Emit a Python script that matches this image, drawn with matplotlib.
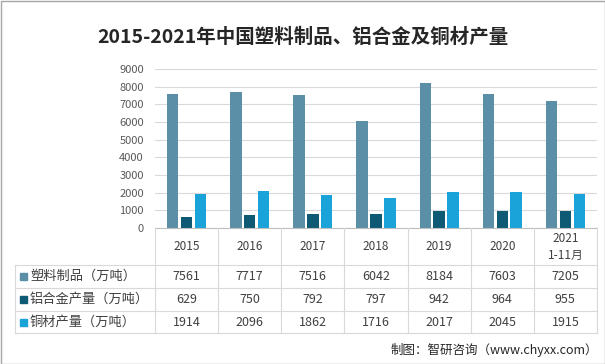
import matplotlib.pyplot as plt
import numpy as np

plt.rcParams['font.family'] = ['Noto Sans CJK SC', 'DejaVu Sans']

years = ['2015', '2016', '2017', '2018', '2019', '2020', '2021\n1-11月']
series_names = ['塑料制品（万吨）', '铝合金产量（万吨）', '铜材产量（万吨）']
plastic = [7561, 7717, 7516, 6042, 8184, 7603, 7205]
alloy = [629, 750, 792, 797, 942, 964, 955]
copper = [1914, 2096, 1862, 1716, 2017, 2045, 1915]
colors = ['#5b8fa8', '#0e5a75', '#1aa3d9']

W, H = 605, 364
fig = plt.figure(figsize=(W / 100, H / 100), dpi=100)

# plot area in pixels
left, right, y0, y9000 = 155, 597, 228, 69
ax = fig.add_axes([left / W, 1 - y0 / H, (right - left) / W, (y0 - y9000) / H])
x = np.arange(len(years))
bw = 0.18
gap = 0.22
for i, vals in enumerate([plastic, alloy, copper]):
    ax.bar(x + (i - 1) * gap, vals, width=bw, color=colors[i], zorder=3)
ax.set_xlim(-0.5, len(years) - 0.5)
ax.set_ylim(0, 9000)
ax.set_yticks(range(0, 9001, 1000))
ax.tick_params(axis='y', length=0, labelsize=8, labelcolor='#595959', pad=8)
ax.set_xticks([])
ax.grid(axis='y', color='#d9d9d9', linewidth=0.8, zorder=0)
for s in ax.spines.values():
    s.set_visible(False)

# table drawn in pixel coordinates on an overlay
tb = fig.add_axes([0, 0, 1, 1], facecolor='none')
tb.set_xlim(0, W)
tb.set_ylim(H, 0)
tb.axis('off')
line_c = '#d9d9d9'
col_w = (right - left) / len(years)
rows_y = [228, 265, 288, 311, 333]
tb_left = 15
# horizontal lines
tb.plot([left, right], [rows_y[0], rows_y[0]], color='#bfbfbf', lw=0.8)
for yy in rows_y[1:]:
    tb.plot([tb_left, right], [yy, yy], color=line_c, lw=0.8)
# vertical lines
for k in range(len(years) + 1):
    xx = left + k * col_w
    tb.plot([xx, xx], [rows_y[0], rows_y[-1]], color=line_c, lw=0.8)
tb.plot([tb_left, tb_left], [rows_y[1], rows_y[-1]], color=line_c, lw=0.8)

for k, yr in enumerate(years):
    cx = left + (k + 0.5) * col_w
    tb.text(cx, (rows_y[0] + rows_y[1]) / 2, yr, ha='center', va='center',
            fontsize=8.5, color='#404040', linespacing=1.4)
for r, (name, vals) in enumerate(zip(series_names, [plastic, alloy, copper])):
    cy = (rows_y[r + 1] + rows_y[r + 2]) / 2
    tb.add_patch(plt.Rectangle((20, cy - 3.5), 7, 7, color=colors[r]))
    tb.text(30, cy, name, ha='left', va='center', fontsize=9.5, color='#404040')
    for k, v in enumerate(vals):
        cx = left + (k + 0.5) * col_w
        tb.text(cx, cy, str(v), ha='center', va='center', fontsize=9, color='#404040')

# title and source
tb.text(W / 2, 37, '2015-2021年中国塑料制品、铝合金及铜材产量', ha='center', va='center',
        fontsize=14, fontweight='bold', color='#262626')
tb.text(598, 350, '制图：智研咨询（www.chyxx.com）', ha='right', va='center',
        fontsize=9, color='#262626')

# outer frame
tb.add_patch(plt.Rectangle((0.5, 0.5), W - 1, H - 1, fill=False, edgecolor='#a6a6a6', lw=1))

fig.savefig('out.png', dpi=100)
